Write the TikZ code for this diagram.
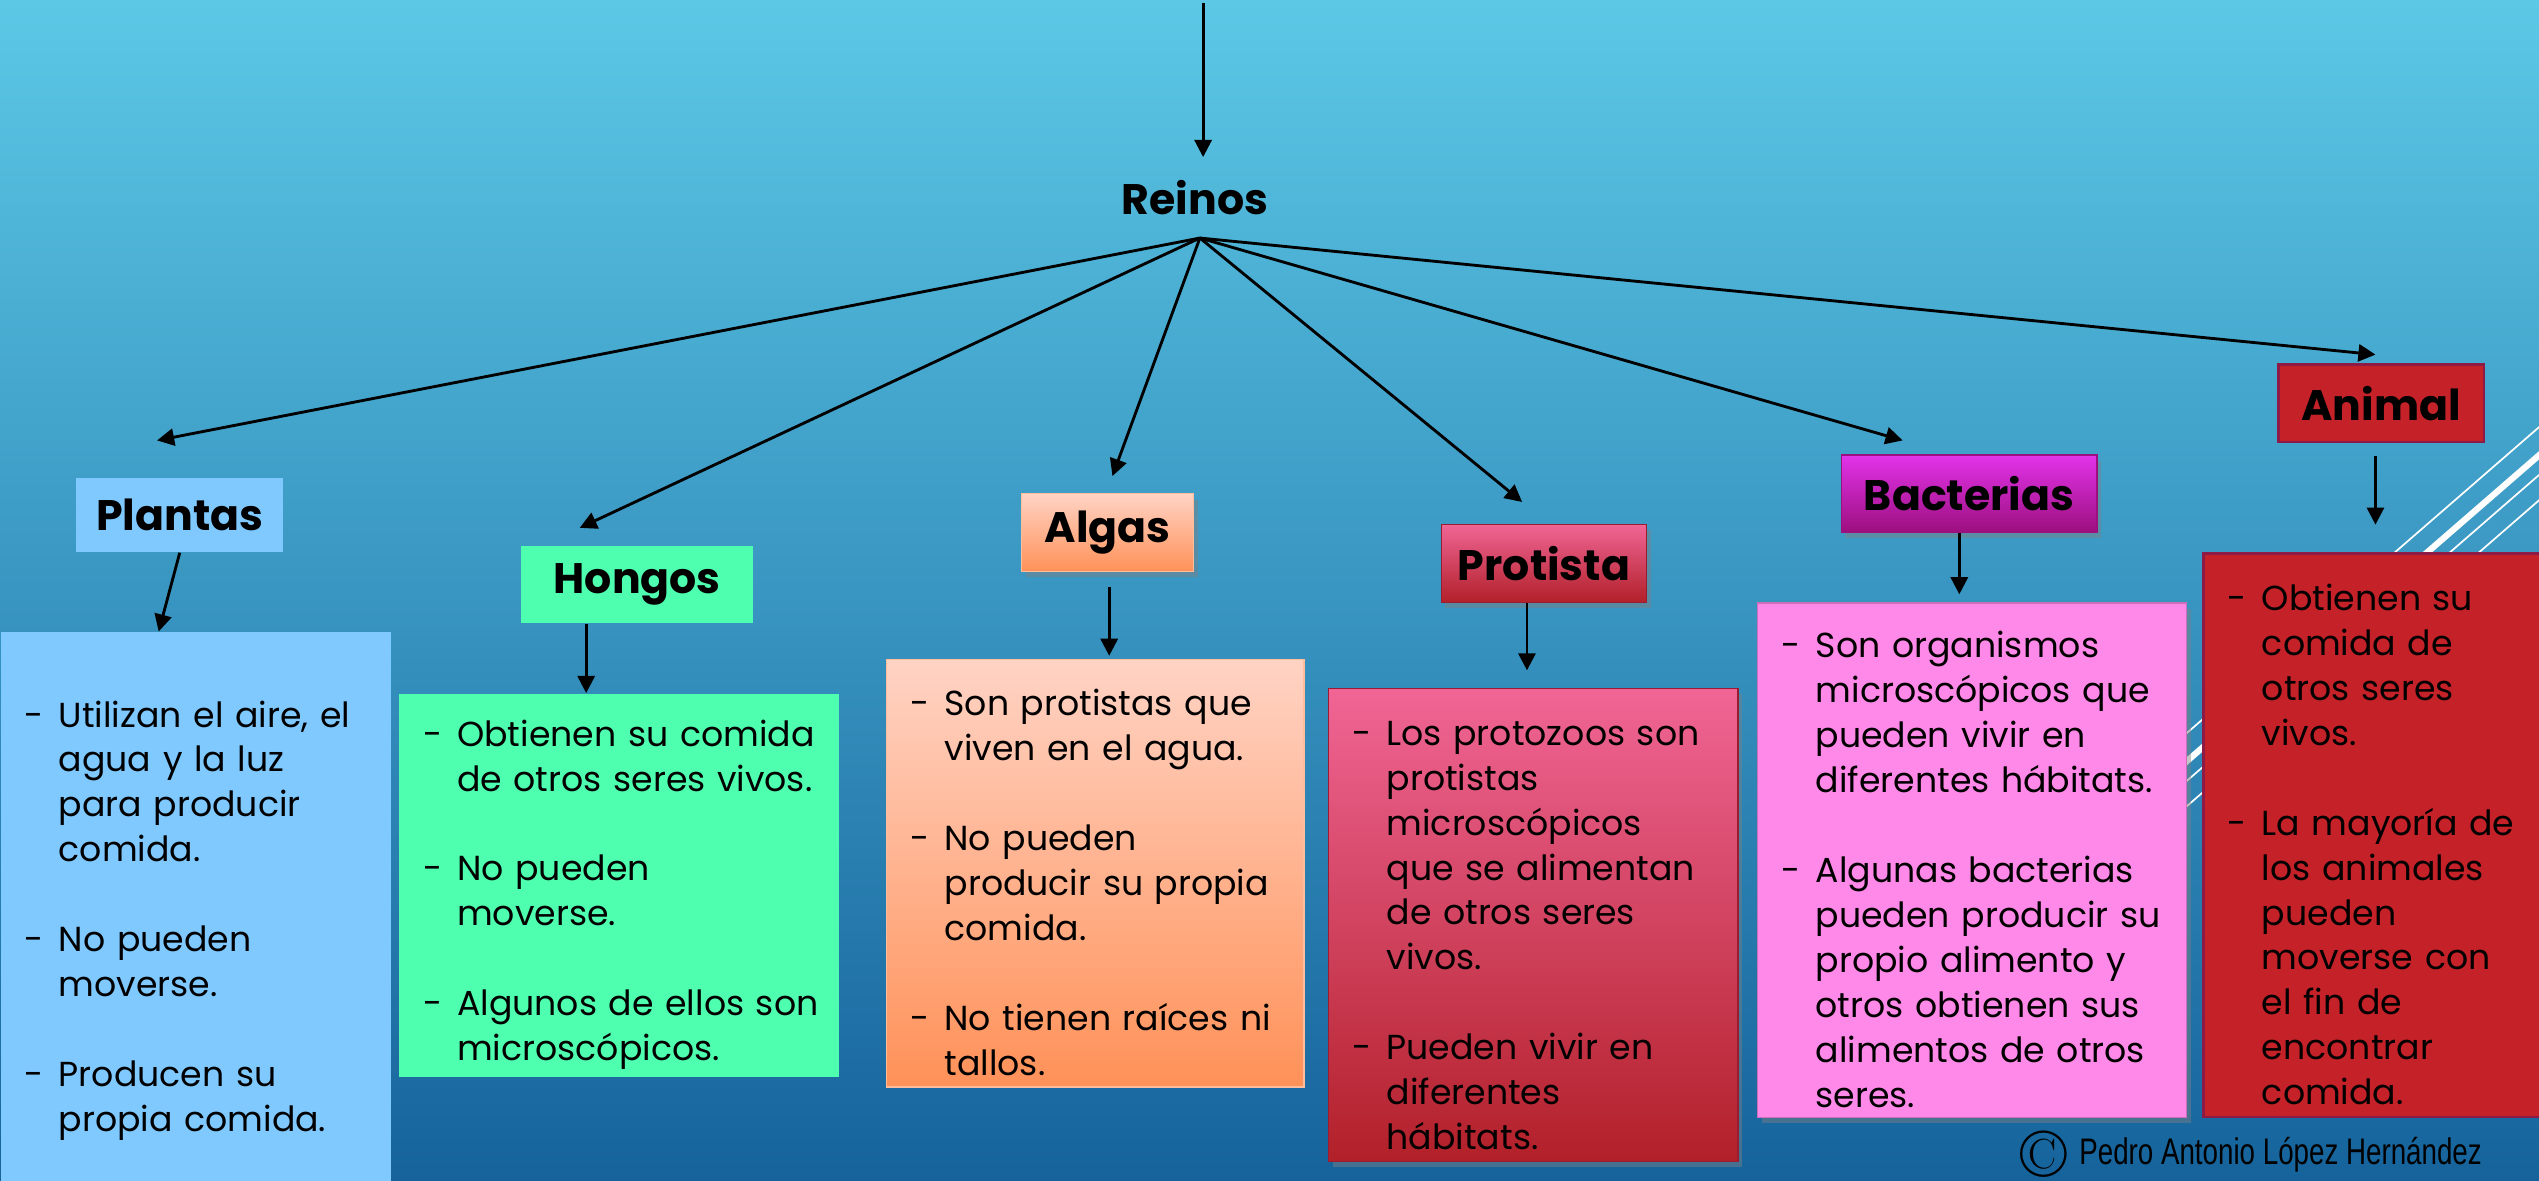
\documentclass[tikz,border=0pt]{standalone}
\usepackage{fontspec}
\usetikzlibrary{arrows.meta,shadows,positioning}
\newfontfamily\gothic{Poppins}
\newfontfamily\narrowsans[FakeStretch=0.75]{Liberation Sans}

\definecolor{bgtop}{HTML}{5CC8E6}
\definecolor{bgmid}{HTML}{3B9BC7}
\definecolor{bgbot}{HTML}{16639C}
\definecolor{plantasc}{HTML}{7FC9FF}
\definecolor{hongosc}{HTML}{4FFFB0}
\definecolor{algastop}{HTML}{FFD3C4}
\definecolor{algasbot}{HTML}{FF9158}
\definecolor{protop}{HTML}{F06595}
\definecolor{probot}{HTML}{B22029}
\definecolor{proline}{HTML}{9B1B30}
\definecolor{bacttop}{HTML}{E233EA}
\definecolor{bactbot}{HTML}{9C0F7E}
\definecolor{bactc}{HTML}{FF89E8}
\definecolor{animalc}{HTML}{C42228}
\definecolor{animalline}{HTML}{8E1B45}

% one item of a list: dash, then the lines with a hanging indent
\newcommand{\itm}[1]{\par\hyphenpenalty=10000\hangindent=0.62cm\hangafter=1\noindent\hspace*{0.2cm}\makebox[0.42cm][l]{-}#1\par}
\newcommand{\itmgap}{\vspace{\baselineskip}}

\tikzset{
  arr/.style={-{Triangle[length=6pt,width=6pt]}, line width=1pt},
  kingdom/.style={font=\gothic\bfseries\fontsize{15}{18}\selectfont, inner sep=0pt},
  info/.style={anchor=north west, inner xsep=0.1cm, inner ysep=0pt, align=left,
    font=\gothic\fontsize{12.2}{15.8}\selectfont},
  shade/.style={drop shadow={shadow xshift=1.5pt, shadow yshift=-2pt, opacity=0.45}},
}

\begin{document}
\begin{tikzpicture}[x=0.02cm, y=-0.02cm]
    \useasboundingbox (0,0) rectangle (1568,729);
    \clip (0,0) rectangle (1568,729);
    \fill[top color=bgtop, middle color=bgmid, bottom color=bgbot] (0,0) rectangle (1568,729);

    % white stripes at the right border
    \foreach \d/\w in {0/0.6pt, 20/2.2pt, 34/0.6pt, 52/0.6pt}
    {
        \draw[white, line width=\w] (1250+\d,540) -- (1600+\d,236);
    }

    % title and kingdom labels
    \node[kingdom] (reinos) at (738,122) {Reinos};
    \coordinate (hub) at (741,147);
    \coordinate (top) at (743,2);
    \coordinate (reinos-in) at (743,97);

    \node[kingdom, fill=plantasc, minimum width=2.56cm, minimum height=0.92cm] (plantas) at (111,318) {Plantas};
    \node[kingdom, fill=hongosc, minimum width=2.86cm, minimum height=0.96cm] (hongos) at (393.5,361) {Hongos};
    \node[kingdom, top color=algastop, bottom color=algasbot, draw=algasbot!60!white, shade,
        minimum width=2.12cm, minimum height=0.96cm] (algas) at (684,329) {Algas};
    \node[kingdom, top color=protop, bottom color=probot, draw=proline, shade,
        minimum width=2.54cm, minimum height=0.96cm] (protista) at (953.5,348) {Protista};
    \node[kingdom, top color=bacttop, bottom color=bactbot, draw=bactbot, shade,
        minimum width=3.16cm, minimum height=0.96cm] (bacterias) at (1216,305) {Bacterias};
    \node[kingdom, fill=animalc, draw=animalline, line width=1pt,
        minimum width=2.54cm, minimum height=0.96cm] (animal) at (1470.5,249) {Animal};

    % arrow ends
    \coordinate (plantas-in) at (97,272);
    \coordinate (hongos-in) at (358,326);
    \coordinate (algas-in) at (687,294);
    \coordinate (protista-in) at (940,310);
    \coordinate (bacterias-in) at (1175,272);
    \coordinate (animal-in) at (1467,219);

    \draw[arr] (top) -- (reinos-in);
    \foreach \n in {plantas, hongos, algas, protista, bacterias, animal}
    {
        \draw[arr] (hub) -- (\n-in);
    }

    % boxes with the descriptions
    \node[info, fill=plantasc, text width=4.62cm, minimum width=4.82cm, minimum height=6.9cm]
        (plantas-box) at (0,390) {%
        \itm{Utilizan el aire, el\newline agua y la luz\newline para producir\newline comida.}
        \itmgap
        \itm{No pueden\newline moverse.}
        \itmgap
        \itm{Producen su\newline propia comida.}};
    \node[info, fill=hongosc, text width=5.24cm, minimum width=5.44cm, minimum height=4.74cm]
        (hongos-box) at (246,428) {%
        \itm{Obtienen su comida\newline de otros seres vivos.}
        \itmgap
        \itm{No pueden\newline moverse.}
        \itmgap
        \itm{Algunos de ellos son\newline microscópicos.}};
    \node[info, top color=algastop, bottom color=algasbot, draw=algasbot!60!white,
        text width=4.96cm, minimum width=5.16cm, minimum height=5.28cm]
        (algas-box) at (547,407) {%
        \itm{Son protistas que\newline viven en el agua.}
        \itmgap
        \itm{No pueden\newline producir su propia\newline comida.}
        \itmgap
        \itm{No tienen raíces ni\newline tallos.}};
    \node[info, top color=protop, bottom color=probot, draw=proline, shade,
        text width=4.86cm, minimum width=5.06cm, minimum height=5.84cm]
        (protista-box) at (820,425) {%
        \itm{Los protozoos son\newline protistas\newline microscópicos\newline que se alimentan\newline de otros seres\newline vivos.}
        \itmgap
        \itm{Pueden vivir en\newline diferentes\newline hábitats.}};
    \node[info, fill=bactc, draw=bactc!80!black, shade,
        text width=5.1cm, minimum width=5.3cm, minimum height=6.36cm]
        (bacterias-box) at (1085,372) {%
        \itm{Son organismos\newline microscópicos que\newline pueden vivir en\newline diferentes hábitats.}
        \itmgap
        \itm{Algunas bacterias\newline pueden producir su\newline propio alimento y\newline otros obtienen sus\newline alimentos de otros\newline seres.}};
    \node[info, fill=animalc, draw=animalline, line width=1pt,
        text width=4.0cm, minimum width=4.2cm, minimum height=6.96cm]
        (animal-box) at (1360,341) {%
        \itm{Obtienen su\newline comida de\newline otros seres\newline vivos.}
        \itmgap
        \itm{La mayoría de\newline los animales\newline pueden\newline moverse con\newline el fin de\newline encontrar\newline comida.}};

    % arrows from the labels to the boxes
    \coordinate (plantas-tip) at (98,390);
    \coordinate (hongos-tip) at (362,428);
    \coordinate (algas-tip) at (685,405);
    \coordinate (protista-tip) at (943,414);
    \coordinate (bacterias-tip) at (1210,367);
    \coordinate (animal-tip) at (1467,324);
    \draw[arr] (plantas.south) -- (plantas-tip);
    \draw[arr] (hongos.south -| hongos-tip) -- (hongos-tip);
    \draw[arr, shorten <=0.18cm] (algas.south -| algas-tip) -- (algas-tip);
    \draw[arr] (protista.south -| protista-tip) -- (protista-tip);
    \draw[arr] (bacterias.south -| bacterias-tip) -- (bacterias-tip);
    \draw[arr, shorten <=0.16cm] (animal.south -| animal-tip) -- (animal-tip);

    % signature
    \node[inner sep=0pt] (copy) at (1262,713) {\fontsize{24}{24}\selectfont\textcopyright};
    \node[inner sep=0pt, anchor=west, right=4pt of copy, font=\narrowsans\fontsize{13}{15}\selectfont]
        (author) {Pedro Antonio López Hernández};
\end{tikzpicture}
\end{document}
